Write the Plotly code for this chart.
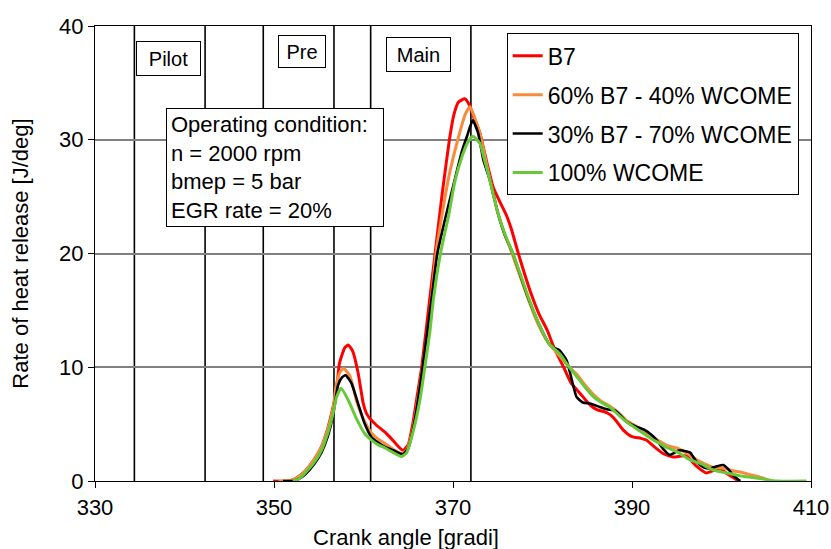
import plotly.graph_objects as go

# ---------------- data ----------------
inj_lines = [334.4, 342.3, 348.8, 356.7, 360.8, 372.0]

x_b7 = [349.9, 351.8, 352.6, 353.4, 354.5, 355.3, 356.0, 356.6, 357.0, 357.3, 357.9, 358.3,
        358.8, 359.4, 359.95, 360.3, 360.7, 361.45, 362.4, 362.9, 363.7, 364.4, 365.0, 365.5,
        366.0, 366.5, 367.4, 368.0, 368.8, 369.6, 370.1, 370.6, 371.3, 371.8, 372.3, 373.0,
        373.6, 374.5, 375.2, 376.0, 376.5, 377.3, 378.0, 378.8, 379.6, 380.5, 381.3, 382.3,
        383.2, 384.2, 385.3, 386.0, 387.2, 387.9, 389.0, 390.0, 391.0, 391.6, 392.5, 393.5,
        394.6, 395.5, 396.1, 397.2, 398.3, 399.0, 399.8, 400.5, 401.3, 401.9]
y_b7 = [0.0, 0.0, 0.3, 0.8, 1.9, 3.0, 4.6, 6.5, 8.0, 10.3, 11.7, 11.95,
        11.4, 9.5, 6.9, 6.0, 5.5, 4.9, 4.3, 3.9, 3.2, 2.7, 3.2, 5.0,
        7.5, 10.0, 16.0, 20.0, 25.3, 30.0, 32.2, 33.3, 33.6, 33.1, 32.0, 30.6,
        28.6, 25.8, 24.6, 23.3, 22.2, 20.0, 18.2, 16.3, 14.7, 13.3, 11.7, 10.1,
        8.6, 7.7, 6.7, 6.3, 6.0, 5.6, 4.5, 3.9, 3.75, 3.6, 3.0, 2.4,
        2.1, 2.2, 2.2, 1.3, 0.7, 0.9, 1.1, 0.7, 0.3, 0.0]

x_b60 = [350.5, 351.8, 352.6, 353.4, 354.5, 355.3, 356.0, 356.6, 357.0, 357.4, 357.8, 358.5,
         359.2, 359.95, 360.9, 361.6, 362.4, 363.3, 364.2, 364.8, 365.5, 366.0, 366.6, 367.4,
         368.1, 368.9, 369.6, 370.6, 371.4, 371.9, 372.4, 373.0, 373.6, 374.1, 374.9, 375.7,
         376.6, 377.5, 378.4, 379.5, 380.7, 381.9, 383.0, 383.8, 384.8, 385.7, 386.6, 387.5,
         388.5, 389.4, 390.3, 391.25, 392.2, 393.1, 394.0, 395.0, 396.0, 397.6, 399.1, 400.5,
         401.3, 402.4, 403.5, 404.6, 405.4]
y_b60 = [0.0, 0.05, 0.3, 0.8, 1.9, 3.0, 4.5, 6.4, 8.6, 9.6, 9.9, 9.2,
         7.1, 5.5, 4.2, 3.7, 3.3, 2.8, 2.4, 2.7, 4.5, 6.8, 10.0, 14.6,
         20.0, 24.0, 27.0, 30.2, 32.3, 32.9, 32.0, 30.6, 28.4, 26.6, 23.9, 21.9,
         20.0, 18.0, 16.0, 13.8, 12.1, 11.0, 10.0, 9.4, 8.4, 7.6, 7.0, 6.6,
         6.0, 5.3, 4.9, 4.4, 3.9, 3.5, 3.1, 2.9, 2.5, 1.7, 1.2, 1.1,
         0.9, 0.73, 0.5, 0.26, 0.0]

x_b30 = [351.0, 352.1, 352.8, 353.5, 354.5, 355.3, 356.0, 356.6, 357.15, 357.6, 358.0, 358.65,
         359.4, 360.1, 360.9, 361.6, 362.4, 363.3, 364.4, 365.0, 365.6, 366.1, 366.6, 367.6,
         368.25, 369.2, 370.2, 371.0, 371.6, 372.2, 372.8, 373.4, 374.1, 375.0, 375.8, 376.7,
         377.6, 378.4, 379.5, 380.7, 381.3, 381.9, 382.7, 383.3, 383.8, 384.5, 385.4, 386.4,
         387.2, 388.1, 388.8, 389.4, 390.4, 391.4, 392.1, 392.75, 393.5, 394.2, 395.3, 396.1,
         396.5, 397.2, 398.0, 398.7, 399.5, 400.2, 400.8, 401.3, 402.1]
y_b30 = [0.0, 0.0, 0.2, 0.6, 1.5, 2.5, 3.9, 5.8, 8.4, 9.1, 9.3, 8.6,
         6.8, 5.1, 3.85, 3.4, 3.0, 2.7, 2.35, 2.9, 4.8, 7.2, 10.0, 16.0,
         20.0, 23.3, 26.5, 29.0, 30.4, 31.7, 30.6, 28.2, 26.5, 23.6, 21.6, 20.0,
         17.9, 16.1, 14.0, 12.1, 11.7, 11.5, 10.6, 8.8, 7.4, 6.9, 6.8, 6.5,
         6.3, 6.2, 5.7, 5.2, 4.8, 4.5, 4.1, 3.6, 2.8, 2.3, 2.7, 2.6,
         2.5, 1.7, 1.2, 1.1, 1.3, 1.4, 1.0, 0.5, 0.0]

x_wc = [352.1, 352.8, 353.4, 354.55, 355.3, 356.0, 356.6, 357.0, 357.5, 358.3, 359.2, 360.1,
        360.9, 361.6, 362.4, 363.3, 364.2, 364.8, 365.5, 366.3, 366.85, 367.4, 367.8, 368.6,
        369.5, 370.2, 371.0, 371.6, 372.2, 373.0, 373.5, 374.1, 375.0, 375.8, 376.7, 377.6,
        378.4, 379.5, 380.7, 381.9, 382.8, 383.8, 384.8, 385.7, 386.6, 387.5, 388.5, 389.4,
        390.3, 391.25, 392.2, 393.1, 394.0, 395.0, 396.5, 397.6, 399.1, 400.6, 402.1, 402.8,
        404.5, 406.2, 409.5]
y_wc = [0.0, 0.2, 0.65, 1.7, 2.7, 4.2, 5.95, 7.4, 8.15, 7.1, 5.5, 4.2,
        3.6, 3.2, 2.9, 2.5, 2.15, 2.45, 4.2, 7.1, 10.0, 13.0, 15.9, 20.0,
        23.3, 26.3, 28.5, 29.7, 30.3, 29.7, 28.3, 26.5, 23.6, 21.7, 20.0, 18.0,
        16.2, 14.0, 12.1, 11.2, 10.2, 9.2, 8.2, 7.4, 6.9, 6.5, 5.8, 5.2,
        4.7, 4.2, 3.7, 3.3, 2.9, 2.58, 1.85, 1.55, 0.97, 0.7, 0.45, 0.38,
        0.2, 0.0, 0.0]

series = [
    ("B7", x_b7, y_b7, "#FF0000", 3),
    ("60% B7 - 40% WCOME", x_b60, y_b60, "#F98B3C", 3),
    ("30% B7 - 70% WCOME", x_b30, y_b30, "#000000", 2.6),
    ("100% WCOME", x_wc, y_wc, "#67C93A", 3),
]

x_ticks = [330, 350, 370, 390, 410]
y_ticks = [0, 10, 20, 30, 40]

FONT = "Liberation Sans, Arial, sans-serif"

fig = go.Figure()
for i, (name, xs, ys, col, w) in enumerate(series):
    fig.add_trace(go.Scatter(x=xs, y=ys, mode="lines", name=name, legendgroup=f"g{i}",
                             line=dict(color=col, width=w, shape="spline", smoothing=0.5)))

shapes = []
for xv in inj_lines:
    shapes.append(dict(type="line", xref="x", yref="paper", x0=xv, x1=xv, y0=0, y1=1,
                       line=dict(color="black", width=1.6), layer="below"))

box_font = dict(family=FONT, size=20, color="black")
annotations = [
    dict(x=338.17, y=37.14, xref="x", yref="y", text="Pilot", showarrow=False,
         font=box_font, bordercolor="black", borderwidth=1, borderpad=1, bgcolor="white",
         width=61, height=31),
    dict(x=353.09, y=37.8, xref="x", yref="y", text="Pre", showarrow=False,
         font=box_font, bordercolor="black", borderwidth=1, borderpad=1, bgcolor="white",
         width=44, height=29),
    dict(x=366.11, y=37.46, xref="x", yref="y", text="Main", showarrow=False,
         font=box_font, bordercolor="black", borderwidth=1, borderpad=1, bgcolor="white",
         width=61, height=31),
    dict(x=350.1, y=27.55, xref="x", yref="y",
         text="Operating condition:<br>n = 2000 rpm<br>bmep = 5 bar<br>EGR rate = 20%",
         showarrow=False, align="left", font=dict(family=FONT, size=22, color="black"),
         bordercolor="black", borderwidth=1, borderpad=4, bgcolor="white",
         width=208, height=109),
    # x-axis title (placed left of centre, as in the reference)
    dict(x=0.434, y=-0.125, xref="paper", yref="paper", text="Crank angle [gradi]",
         showarrow=False, xanchor="center", yanchor="middle",
         font=dict(family=FONT, size=22, color="black")),
]

fig.update_layout(
    width=831, height=549,
    margin=dict(l=95, r=20, t=26, b=68),
    paper_bgcolor="white", plot_bgcolor="white",
    font=dict(family=FONT, size=22, color="black"),
    shapes=shapes, annotations=annotations,
    legend=dict(x=0.575, y=0.984, xanchor="left", yanchor="top",
                bordercolor="black", borderwidth=1, bgcolor="white",
                font=dict(family=FONT, size=23, color="black"),
                itemwidth=30, tracegroupgap=6),
    xaxis=dict(range=[330, 410], tickvals=x_ticks, ticks="outside", ticklen=6,
               tickcolor="black", showline=True, linecolor="black", linewidth=1.3,
               mirror=True, showgrid=False, zeroline=False, automargin=False,
               tickfont=dict(size=22)),
    yaxis=dict(range=[0, 40], tickvals=y_ticks, ticks="outside", ticklen=6,
               tickcolor="black", showline=True, linecolor="black", linewidth=1.3,
               mirror=True, showgrid=True, gridcolor="#808080", gridwidth=1.5,
               zeroline=False, automargin=False, tickfont=dict(size=22),
               title=dict(text="Rate of heat release [J/deg]", standoff=24,
                          font=dict(size=22))),
)

fig.write_html("out.html",
               config={"displayModeBar": False},
               post_script="document.body.style.margin='0px';"
                           "document.body.style.overflow='hidden';")
